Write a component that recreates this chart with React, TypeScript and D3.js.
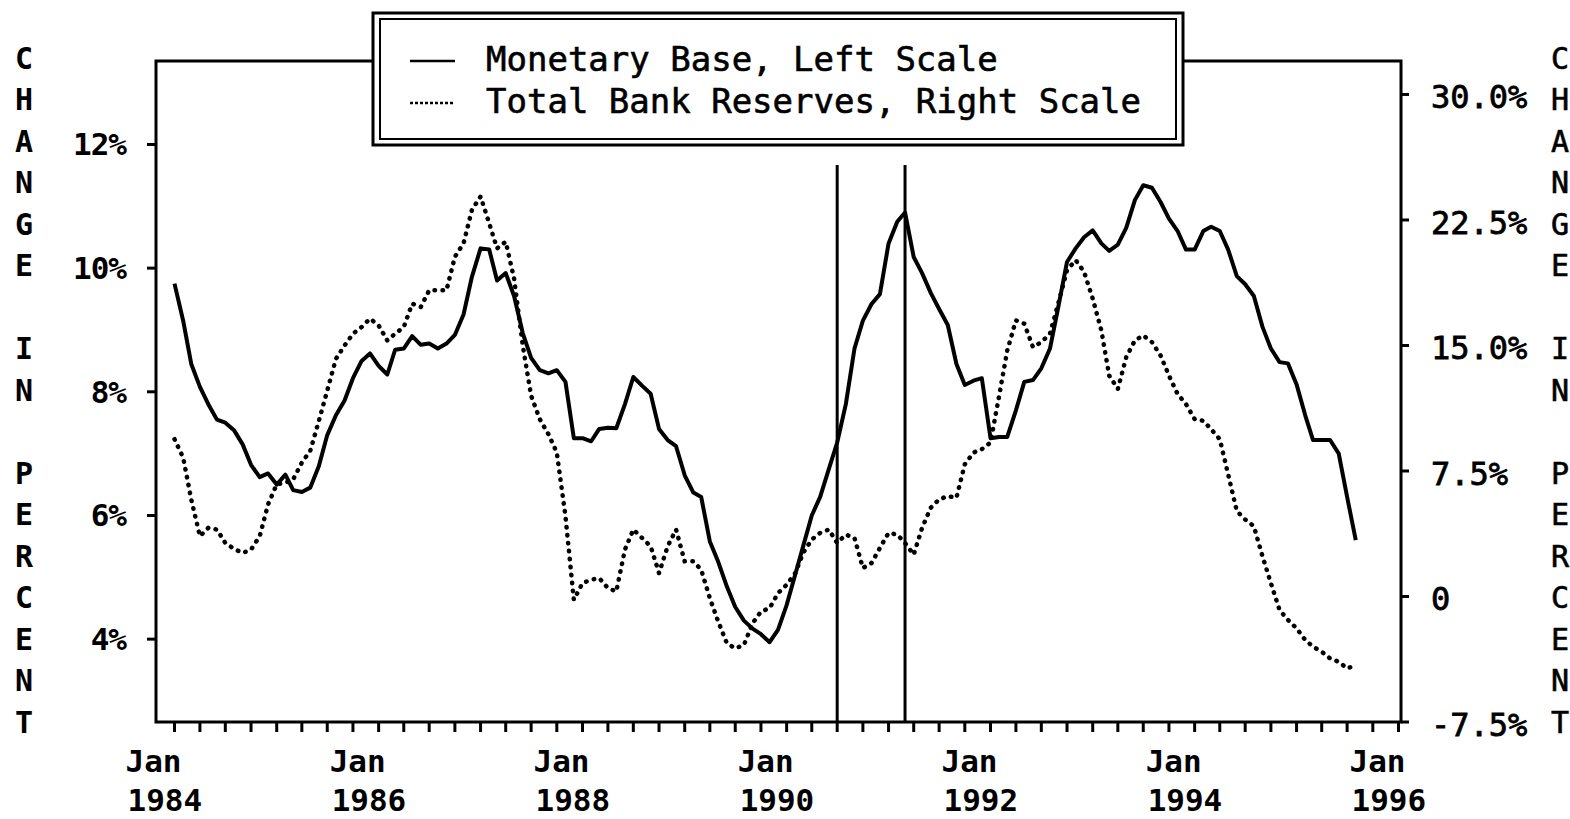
import React from "react";
import * as d3 from "d3";

// Monthly data, Jan 1984 .. Aug 1995
const START_YEAR = 1984;
const monetaryBase: number[] = [
  9.75, 9.15, 8.45, 8.08, 7.8, 7.55, 7.5, 7.38, 7.15, 6.82, 6.62, 6.68,
  6.5, 6.66, 6.41, 6.38, 6.45, 6.8, 7.3, 7.62, 7.86, 8.22, 8.5, 8.62,
  8.42, 8.28, 8.68, 8.7, 8.9, 8.76, 8.78, 8.7, 8.78, 8.92, 9.25, 9.86,
  10.32, 10.3, 9.8, 9.92, 9.55, 8.95, 8.55, 8.35, 8.3, 8.35, 8.16, 7.25,
  7.25, 7.2, 7.4, 7.42, 7.41, 7.8, 8.24, 8.1, 7.97, 7.4, 7.22, 7.12,
  6.65, 6.37, 6.3, 5.58, 5.25, 4.85, 4.52, 4.3, 4.17, 4.08, 3.95, 4.15,
  4.55, 5.05, 5.5, 6.0, 6.3, 6.75, 7.18, 7.8, 8.7, 9.15, 9.42, 9.58,
  10.4, 10.75, 10.9, 10.18, 9.92, 9.6, 9.34, 9.08, 8.45, 8.11, 8.18, 8.22,
  7.25, 7.27, 7.27, 7.7, 8.16, 8.19, 8.38, 8.7, 9.4, 10.1, 10.32, 10.5,
  10.61, 10.4, 10.28, 10.38, 10.65, 11.1, 11.34, 11.3, 11.07, 10.8, 10.6, 10.3,
  10.3, 10.6, 10.67, 10.6, 10.3, 9.87, 9.74, 9.55, 9.05, 8.7, 8.48, 8.46,
  8.12, 7.62, 7.22, 7.22, 7.22, 7.0, 6.3, 5.6,
];
const bankReserves: number[] = [
  9.4, 8.3, 5.8, 3.6, 4.1, 4.0, 3.2, 2.85, 2.6, 2.8, 3.6, 5.5,
  6.7, 6.8, 7.0, 8.0, 8.7, 10.5, 12.3, 14.2, 15.0, 15.7, 16.1, 16.6,
  16.2, 15.3, 15.7, 16.1, 17.5, 17.3, 18.3, 18.3, 18.3, 20.3, 21.1, 23.1,
  23.9, 22.3, 20.8, 21.2, 19.0, 15.0, 12.0, 10.6, 9.7, 8.6, 4.8, -0.2,
  0.8, 1.0, 1.1, 0.5, 0.3, 2.8, 4.0, 3.5, 3.0, 1.4, 3.0, 4.0,
  2.1, 2.1, 1.6, -0.1, -1.5, -2.8, -3.1, -2.9, -1.6, -0.9, -0.7, 0.2,
  0.7, 1.4, 2.6, 3.4, 3.8, 4.0, 3.2, 3.7, 3.5, 1.7, 2.0, 2.9,
  3.8, 3.7, 3.2, 2.5, 4.1, 5.3, 5.8, 6.0, 5.9, 7.9, 8.6, 8.8,
  9.2, 12.0, 14.7, 16.5, 16.3, 14.9, 15.2, 15.7, 17.6, 19.5, 20.1, 19.4,
  17.8, 15.9, 13.2, 12.4, 14.3, 15.3, 15.6, 15.2, 14.4, 13.2, 12.1, 11.5,
  10.6, 10.5, 10.0, 9.4, 7.3, 5.1, 4.6, 4.2, 2.4, 0.8, -0.8, -1.4,
  -1.9, -2.6, -3.0, -3.3, -3.7, -3.9, -4.3, -4.1,
];
const leftTicks: number[] = [4, 6, 8, 10, 12];
const leftTickLabels: string[] = ["4%", "6%", "8%", "10%", "12%"];
const rightTicks: number[] = [-7.5, 0, 7.5, 15, 22.5, 30];
const rightTickLabels: string[] = ["-7.5%", "0", "7.5%", "15.0%", "22.5%", "30.0%"];
const yearLabels: number[] = [1984, 1986, 1988, 1990, 1992, 1994, 1996];
const recession: Date[] = [new Date(1990, 6, 1), new Date(1991, 2, 1)];
const axisTitle = "CHANGE IN PERCENT".split("");
const legendItems = ["Monetary Base, Left Scale", "Total Bank Reserves, Right Scale"];

const FONT = "'DejaVu Sans Mono', monospace";

export default function App() {
  const W = 1570, H = 819;
  const L = 156, R = 1401, T = 61, B = 722;

  const x = d3.scaleTime()
    .domain([new Date(1984, 0, 1), new Date(1996, 0, 1)])
    .range([174.5, 1398.5]);
  const yL = d3.scaleLinear().domain([2.66, 13.35]).range([B, T]);
  const yR = d3.scaleLinear().domain([-7.5, 32.0]).range([B, T]);

  const dateOf = (i: number) => new Date(START_YEAR, i, 1);
  const lineL = d3.line<number>().x((_, i) => x(dateOf(i))).y((d) => yL(d));
  const lineR = d3.line<number>().x((_, i) => x(dateOf(i))).y((d) => yR(d));

  const qTicks = d3.timeMonth.every(3)!.range(new Date(1984, 0, 1), new Date(1996, 0, 2));

  const rowY = (i: number) => 58 + i * 41.5;

  return (
    <svg width={W} height={H} style={{ position: "absolute", left: 0, top: 0, background: "#fff" }}
      fontFamily={FONT}>
      <rect x={0} y={0} width={W} height={H} fill="#fff" />
      {/* frame */}
      <rect x={L} y={T} width={R - L} height={B - T} fill="none" stroke="#000" strokeWidth={3} />
      {/* left ticks */}
      {leftTicks.map((v, i) => (
        <g key={"lt" + i}>
          <line x1={L - 9} x2={L} y1={yL(v)} y2={yL(v)} stroke="#000" strokeWidth={3} />
          <text x={126} y={yL(v)} textAnchor="end" dominantBaseline="central" fontSize={31}
            fontWeight="bold" letterSpacing={-1}>{leftTickLabels[i]}</text>
        </g>
      ))}
      {/* right ticks */}
      {rightTicks.map((v, i) => (
        <g key={"rt" + i}>
          <line x1={R} x2={R + 8} y1={yR(v)} y2={yR(v)} stroke="#000" strokeWidth={3} />
          <text x={1431} y={yR(v) + 3} textAnchor="start" dominantBaseline="central" fontSize={32}
            stroke="#000" strokeWidth={0.8}>{rightTickLabels[i]}</text>
        </g>
      ))}
      {/* bottom ticks */}
      {qTicks.map((d, i) => (
        <line key={"bt" + i} x1={x(d)} x2={x(d)} y1={B} y2={B + 10} stroke="#000" strokeWidth={3} />
      ))}
      {yearLabels.map((yr) => {
        const tx = x(new Date(yr, 0, 1));
        return (
          <g key={"yl" + yr} fontWeight="bold" fontSize={31}>
            <text x={tx - 49} y={772}>Jan</text>
            <text x={tx - 47} y={811}>{yr}</text>
          </g>
        );
      })}
      {/* axis titles */}
      {axisTitle.map((c, i) => (
        <text key={"la" + i} x={24} y={rowY(i)} textAnchor="middle" dominantBaseline="central"
          fontSize={30} fontWeight="bold">{c}</text>
      ))}
      {axisTitle.map((c, i) => (
        <text key={"ra" + i} x={1560} y={rowY(i)} textAnchor="middle" dominantBaseline="central"
          fontSize={30} stroke="#000" strokeWidth={0.6}>{c}</text>
      ))}
      {/* recession lines */}
      {recession.map((d, i) => (
        <line key={"rc" + i} x1={x(d)} x2={x(d)} y1={165} y2={B} stroke="#000" strokeWidth={3} />
      ))}
      {/* series */}
      <path d={lineR(bankReserves) || ""} fill="none" stroke="#000" strokeWidth={4.5}
        strokeDasharray="0.5 7.5" strokeLinecap="round" />
      <path d={lineL(monetaryBase) || ""} fill="none" stroke="#000" strokeWidth={4}
        strokeLinejoin="round" />
      {/* legend */}
      <rect x={373} y={13} width={810} height={132} fill="#fff" stroke="#000" strokeWidth={3} />
      <rect x={380} y={19} width={796} height={120} fill="none" stroke="#000" strokeWidth={2} />
      <line x1={410} x2={455} y1={61} y2={61} stroke="#000" strokeWidth={2.5} />
      <line x1={410} x2={455} y1={103} y2={103} stroke="#000" strokeWidth={2.5} strokeDasharray="3 2" />
      <text x={486} y={71} fontSize={34} stroke="#000" strokeWidth={0.6}>{legendItems[0]}</text>
      <text x={486} y={113} fontSize={34} stroke="#000" strokeWidth={0.6}>{legendItems[1]}</text>
    </svg>
  );
}
